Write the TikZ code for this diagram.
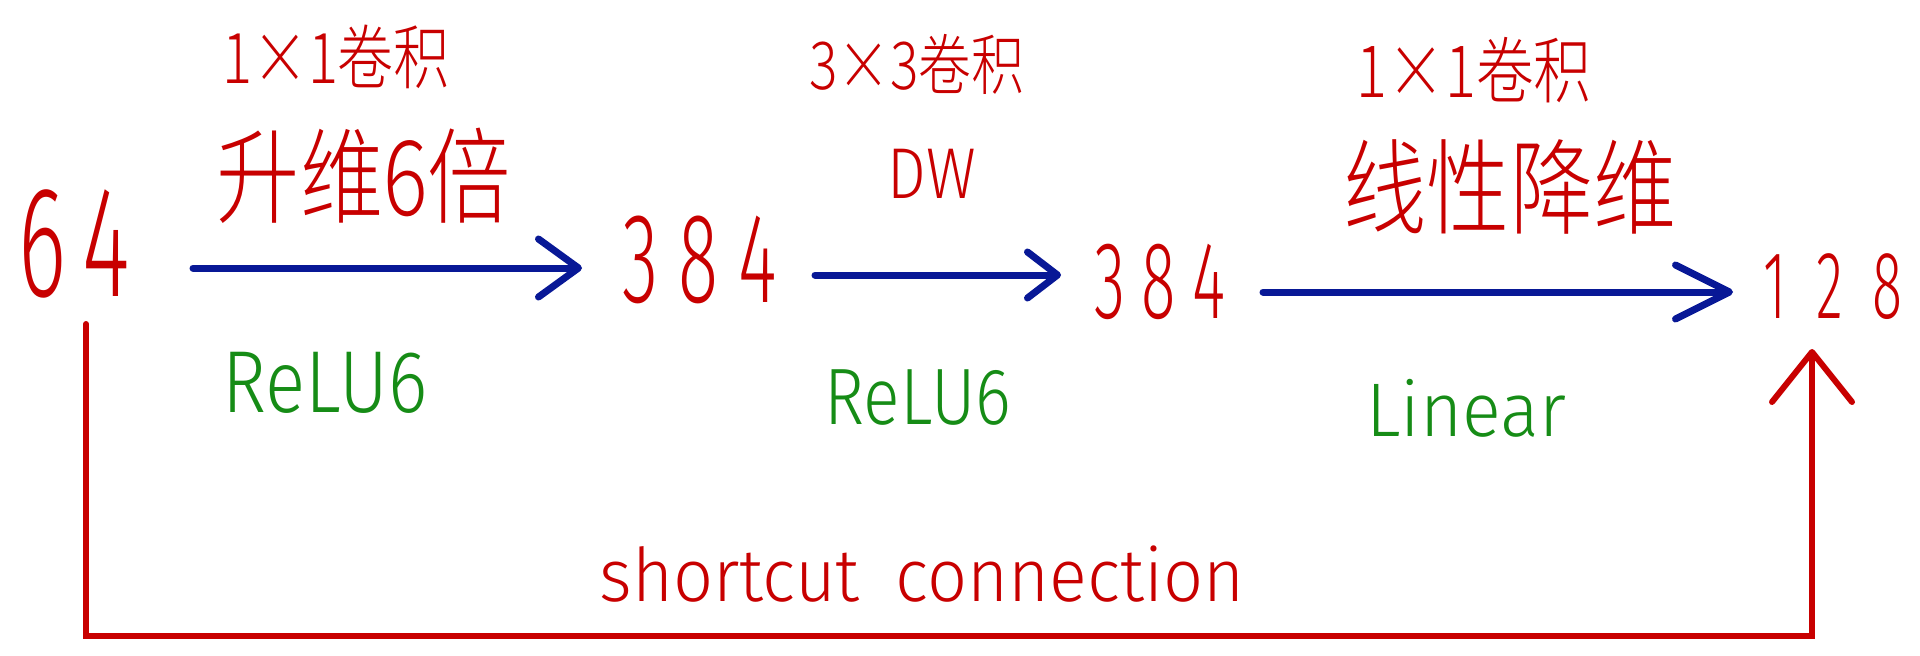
\documentclass[tikz,border=0pt]{standalone}
\usepackage{fontspec}
\usetikzlibrary{arrows.meta}
\newfontfamily\cjkhand[FakeStretch=0.8]{Noto Sans CJK SC Light}
\newfontfamily\numhand[FakeStretch=0.58]{Fira Sans Light}
\newfontfamily\lathand[FakeStretch=0.85]{Fira Sans Light}
\newfontfamily\lathandw[FakeStretch=0.95]{Fira Sans Light}
\definecolor{hred}{RGB}{200,0,0}
\definecolor{hblue}{RGB}{8,24,150}
\definecolor{hgreen}{RGB}{22,140,22}
\newcommand{\fsz}[1]{\fontsize{#1}{#1}\selectfont}
\tikzset{
  numlabel/.style={text=hred, inner sep=0pt, anchor=base},
  cjklabel/.style={text=hred, inner sep=0pt},
  actlabel/.style={text=hgreen, inner sep=0pt},
  flow/.style={draw=hblue, line width=7pt, line cap=round, line join=round},
  shortcut/.style={draw=hred, line width=6pt, line cap=round},
}
\begin{document}
\begin{tikzpicture}[x=1pt,y=-1pt]
\useasboundingbox[fill=white] (0,0) rectangle (1920,656);
% numbers
\node[numlabel, font=\numhand\fsz{158}] (n64) at (74,296) {6\hspace{16pt}4};
\node[numlabel, font=\numhand\fsz{128}] (n384a) at (700,302) {3\hspace{20pt}8\hspace{20pt}4};
\node[numlabel, font=\numhand\fsz{110}] (n384b) at (1160,318) {3\hspace{16pt}8\hspace{16pt}4};
\node[numlabel, font=\numhand\fsz{96}] (n128) at (1833,318) {1\hspace{30pt}2\hspace{30pt}8};
% top labels
\node[cjklabel, font=\cjkhand\fsz{70}] (t1a) at (336,57) {1×1卷积};
\node[cjklabel, font=\cjkhand\fsz{104}] (t1b) at (364,176) {升维6倍};
\node[cjklabel, font=\cjkhand\fsz{66}] (t2a) at (917,64) {3×3卷积};
\node[cjklabel, font=\lathand\fsz{72}] (t2b) at (932,174) {DW};
\node[cjklabel, font=\cjkhand\fsz{72}] (t3a) at (1474,70) {1×1卷积};
\node[cjklabel, font=\cjkhand\fsz{104}] (t3b) at (1510,187) {线性降维};
% activation labels
\node[actlabel, font=\lathand\fsz{88}] (r1) at (325,383) {ReLU6};
\node[actlabel, font=\lathand\fsz{80}] (r2) at (918,398) {ReLU6};
\node[actlabel, font=\lathandw\fsz{76}] (r3) at (1466,408) {Linear};
\node[cjklabel, font=\lathandw\fsz{74}] (sc) at (922,574) {shortcut\hspace{36pt}connection};
% arrows
\coordinate (a1s) at (193,268); \coordinate (a1e) at (582,268);
\coordinate (a2s) at (815,275); \coordinate (a2e) at (1061,275);
\coordinate (a3s) at (1263,292); \coordinate (a3e) at (1733,292);
\draw[flow, -{Straight Barb[length=40pt,width=58pt,round]}] (a1s) -- (a1e);
\draw[flow, -{Straight Barb[length=30pt,width=46pt,round]}] (a2s) -- (a2e);
\draw[flow, -{Straight Barb[length=54pt,width=54pt,round]}] (a3s) -- (a3e);
% shortcut
\coordinate (s1) at (86,324); \coordinate (s2) at (86,636);
\coordinate (s3) at (1812,636); \coordinate (s4) at (1812,349);
\draw[shortcut, -{Straight Barb[length=50pt,width=80pt,round]}] (s1) -- (s2) -- (s3) -- (s4);
\end{tikzpicture}
\end{document}
